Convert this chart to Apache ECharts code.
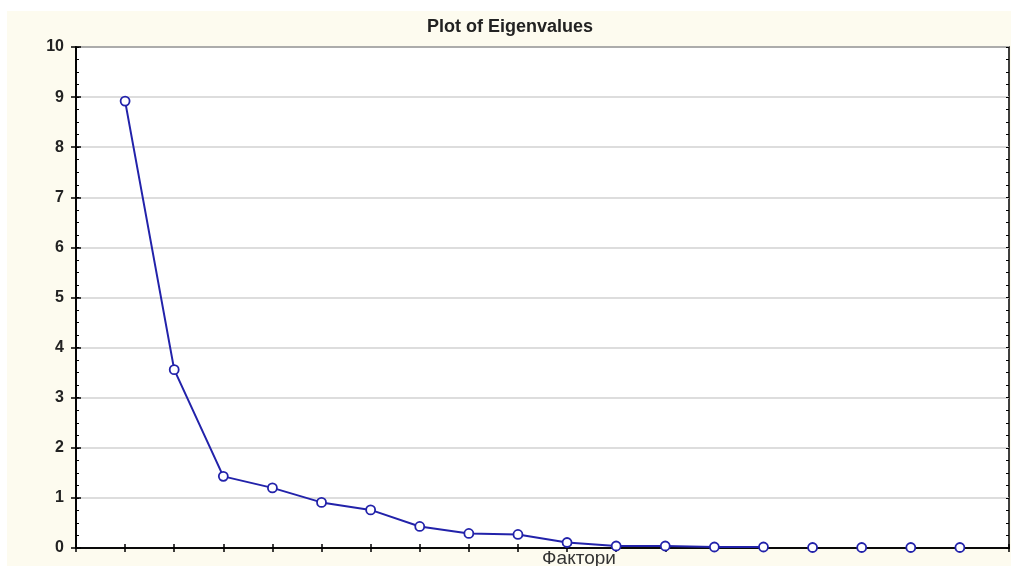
<!DOCTYPE html>
<html>
<head>
<meta charset="utf-8">
<script src="https://cdn.jsdelivr.net/npm/echarts@6/dist/echarts.min.js"></script>
<style>
html,body{margin:0;padding:0;background:#ffffff;}
#c{width:1011px;height:566px;}
</style>
</head>
<body>
<div id="c"></div>
<script>
const titleText = 'Plot of Eigenvalues';
const xAxisName = 'Фактори';
// factor numbers and eigenvalues (connected part)
const factors = [1,2,3,4,5,6,7,8,9,10,11,12,13,14];
const eigenvalues = [8.92,3.56,1.43,1.20,0.91,0.76,0.43,0.29,0.27,0.11,0.04,0.04,0.02,0.02];
// remaining factors (markers only)
const tailFactors = [15,16,17,18];
const tailEigenvalues = [0.01,0.01,0.01,0.01];
const yTicks = [0,1,2,3,4,5,6,7,8,9,10];

const chart = echarts.init(document.getElementById('c'));
const lineColor = '#2222aa';
const font = '"Liberation Sans", Arial, sans-serif';
function yAxisMajor(pos, labels){
  return {type:'value', min:0, max:10, interval:1, position:pos,
    axisLine:{show:true,lineStyle:{color:'#000',width:1.5}},
    axisTick:{show:true,inside:true,length:5,lineStyle:{color:'#000',width:1.5}},
    axisLabel:labels?{show:true,margin:12,color:'#222',fontWeight:'bold',fontSize:16,fontFamily:font,
        formatter:v=>yTicks.includes(v)?String(v):''}:{show:false},
    splitLine:labels?{show:true,lineStyle:{color:'#d2d2d2',width:1.5}}:{show:false}};
}
function yAxisMinor(pos){
  return {type:'value', min:0, max:10, interval:0.25, position:pos,
    axisLine:{show:false},
    axisTick:{show:true,inside:true,length:3,lineStyle:{color:'#000',width:1}},
    axisLabel:{show:false},splitLine:{show:false}};
}
chart.setOption({
  animation:false,
  backgroundColor:'#ffffff',
  graphic:[
    {type:'rect',z:-10,silent:true,shape:{x:7,y:11,width:1011,height:566},style:{fill:'#fdfbef'}},
    {type:'text',x:510,y:27,style:{text:titleText,font:'bold 18px '+font,fill:'#222',textAlign:'center',textVerticalAlign:'middle'}},
    {type:'text',x:579,y:559,style:{text:xAxisName,font:'19px '+font,fill:'#333',textAlign:'center',textVerticalAlign:'middle'}}
  ],
  grid:{left:76,top:47,right:2,bottom:18,show:true,backgroundColor:'#ffffff',borderColor:'#000',borderWidth:1.5,containLabel:false},
  xAxis:[
    {type:'value',min:0,max:19,interval:1,position:'bottom',
     axisLine:{show:true,onZero:false,lineStyle:{color:'#000',width:1.5}},
     axisTick:{show:true,inside:true,length:4,lineStyle:{color:'#000',width:1.5}},
     axisLabel:{show:false},splitLine:{show:false}},
    {type:'value',min:0,max:19,interval:1,position:'top',
     axisLine:{show:true,lineStyle:{color:'#000',width:1.5}},
     axisTick:{show:true,inside:true,length:4,lineStyle:{color:'#000',width:1.5}},
     axisLabel:{show:false},splitLine:{show:false}}
  ],
  yAxis:[
    yAxisMajor('left',true),
    yAxisMajor('right',false),
    yAxisMinor('left'),
    yAxisMinor('right')
  ],
  series:[
    {type:'line',xAxisIndex:0,yAxisIndex:0,
     data:factors.map((f,i)=>[f,eigenvalues[i]]),
     symbol:'circle',symbolSize:9,showAllSymbol:true,
     lineStyle:{color:lineColor,width:2},
     itemStyle:{color:'#ffffff',borderColor:lineColor,borderWidth:1.8,opacity:1},
     clip:false,z:5},
    {type:'scatter',xAxisIndex:0,yAxisIndex:0,
     data:tailFactors.map((f,i)=>[f,tailEigenvalues[i]]),
     symbol:'circle',symbolSize:9,
     itemStyle:{color:'#ffffff',borderColor:lineColor,borderWidth:1.8,opacity:1},
     clip:false,z:5}
  ]
});
</script>
</body>
</html>
